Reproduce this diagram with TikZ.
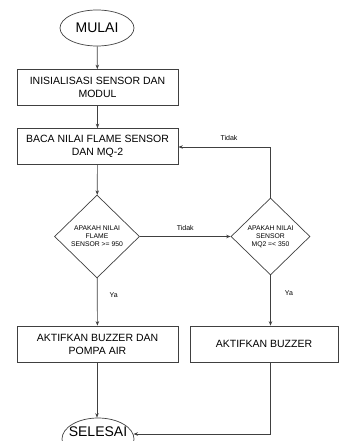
\documentclass[tikz,border=0pt]{standalone}
\usepackage{fontspec}
\setmainfont{Liberation Sans}
\usetikzlibrary{shapes.geometric,arrows.meta}
\begin{document}
\begin{tikzpicture}[x=1pt,y=-1pt,
  line/.style={draw=black!75,line width=0.7pt},
  arr/.style={line,-{Stealth[length=4.5pt,width=3.5pt]}},
  term/.style={line,ellipse,minimum width=74pt,minimum height=36pt,inner sep=0pt,font=\fontsize{14}{16}\selectfont},
  proc/.style={line,rectangle,minimum width=161pt,minimum height=36pt,align=center,inner sep=0pt,font=\fontsize{10.5}{13}\selectfont},
  dec/.style={line,diamond,minimum width=82pt,minimum height=80pt,aspect=1,inner sep=0pt,align=center,font=\fontsize{6.8}{8}\selectfont},
  lbl/.style={font=\fontsize{7}{8}\selectfont,inner sep=0pt}]
\useasboundingbox (0,0) rectangle (339,441);
\begin{scope}
\clip (0,0) rectangle (339,441);
\node[term] (start) at (97,28) {MULAI};
\node[proc] (init) at (97.5,87.5) {INISIALISASI SENSOR DAN\\MODUL};
\node[proc] (read) at (97.5,146.5) {BACA NILAI FLAME SENSOR\\DAN MQ-2};
\node[dec,minimum width=85pt,minimum height=83pt] (d1) at (97,236.5) {APAKAH NILAI\\FLAME\\SENSOR >= 950};
\node[dec,minimum width=79pt,minimum height=77pt] (d2) at (270.5,236.5) {APAKAH NILAI\\SENSOR\\MQ2 =< 350};
\node[proc] (a1) at (97.5,344) {AKTIFKAN BUZZER DAN\\POMPA AIR};
\node[proc,minimum width=148pt] (a2) at (264,344) {AKTIFKAN BUZZER};
\node[line,ellipse,minimum width=72pt,minimum height=42pt,inner sep=0pt] (stop) at (98,439) {};
\node[font=\fontsize{14}{16}\selectfont,inner sep=0pt] (stoptxt) at (98,432) {SELESAI};
\coordinate (c1) at (270.5,147);
\coordinate (c2) at (270.5,434);
\coordinate (se) at (133.5,434);
\draw[arr] (start) -- (init);
\draw[arr] (init) -- (read);
\draw[arr] (read) -- (d1);
\draw[arr] (d1) -- node[lbl,above=6pt]{Tidak} (d2);
\draw[arr] (d2.north) -- (c1) -- node[lbl,above=6pt,pos=0.45]{Tidak} (read.east |- c1);
\draw[arr] (d1) -- node[lbl,pos=0.35,right=12pt]{Ya} (a1);
\draw[arr] (d2.south) -- node[lbl,pos=0.35,right=14pt]{Ya} (a2.north -| d2.south);
\draw[arr] (a1.south -| d1.south) -- (stop.north -| d1.south);
\draw[arr] (a2.south -| c2) -- (c2) -- (se);
\end{scope}
\end{tikzpicture}
\end{document}
